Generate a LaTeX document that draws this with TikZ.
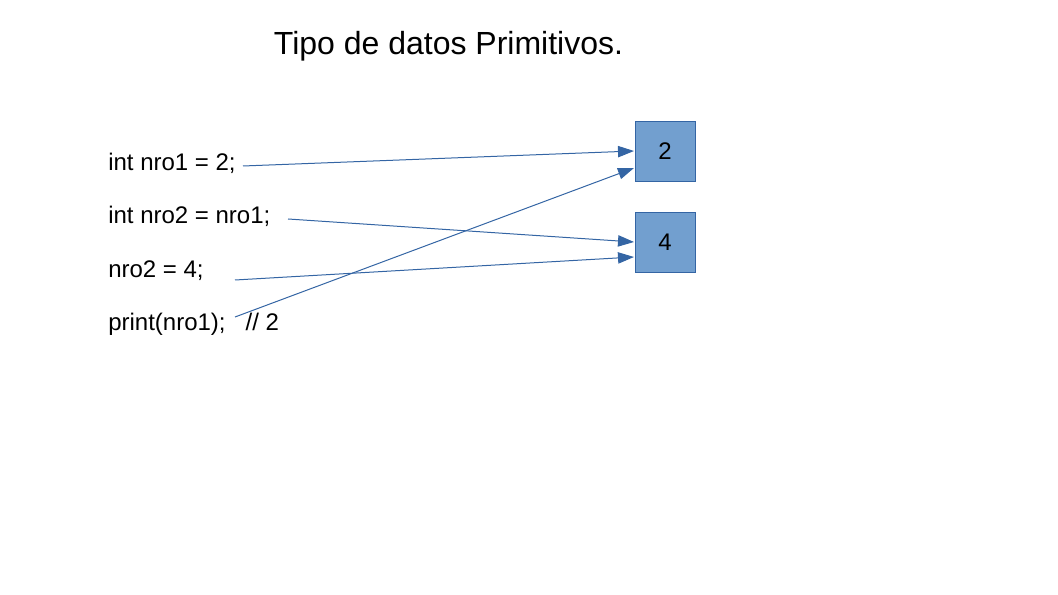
\documentclass[tikz,border=0pt]{standalone}
\usepackage{fontspec}
\setmainfont{Liberation Sans}
\usetikzlibrary{arrows.meta}
\definecolor{lineblue}{HTML}{3465A4}
\definecolor{boxblue}{HTML}{729FCF}
\tikzset{
  codetext/.style={anchor=base west, inner sep=0pt, font=\fontsize{18}{21}\selectfont},
  valbox/.style={draw=lineblue, fill=boxblue, line width=0.75pt, minimum width=45pt, minimum height=45pt, inner sep=0pt, font=\fontsize{18}{21}\selectfont},
  ptr/.style={draw=lineblue, line width=0.75pt, -{Triangle[length=12pt,width=8.5pt]}, shorten >=0pt}
}
\begin{document}
\begin{tikzpicture}[x=0.75pt,y=-0.75pt]
\useasboundingbox (0,0) rectangle (1058,595);
\node[anchor=base, inner sep=0pt, font=\fontsize{24}{28}\selectfont] (title) at (448.5,55) {Tipo de datos Primitivos.};
\node[codetext] (l1) at (108,171) {int nro1 = 2;};
\node[codetext] (l2) at (108,224) {int nro2 = nro1;};
\node[codetext] (l3) at (108,278) {nro2 = 4;};
\node[codetext] (l4) at (108,331) {print(nro1);\hspace{15pt}// 2};
\node[valbox] (b1) at (665,151.5) {2};
\node[valbox] (b2) at (665,242.5) {4};
\coordinate (s1) at (243,166);
\coordinate (s2) at (288,219);
\coordinate (s3) at (235,280);
\coordinate (s4) at (235,317);
\coordinate (e1) at (634,151);
\coordinate (e2) at (634,242);
\coordinate (e3) at (634,257);
\coordinate (e4) at (634,168);
\draw[ptr] (s1) -- (e1);
\draw[ptr] (s2) -- (e2);
\draw[ptr] (s3) -- (e3);
\draw[ptr] (s4) -- (e4);
\end{tikzpicture}
\end{document}
